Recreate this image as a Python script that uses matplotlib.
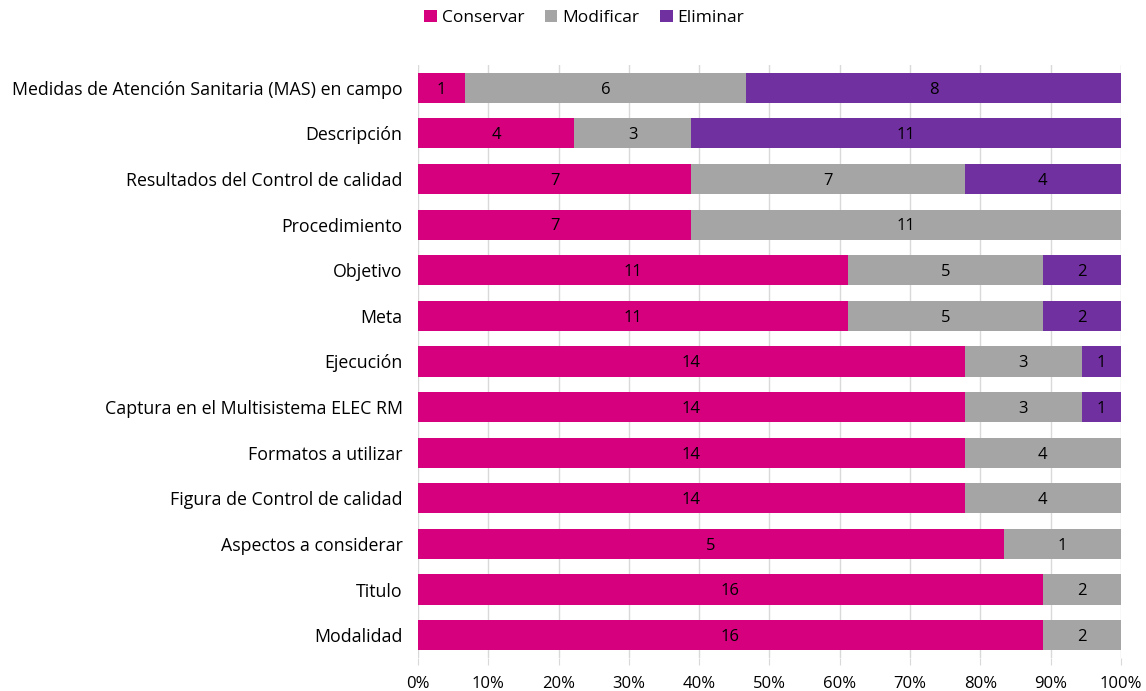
import matplotlib
matplotlib.use("Agg")
import matplotlib.pyplot as plt
import numpy as np

categories = ["Medidas de Atención Sanitaria (MAS) en campo", "Descripción",
              "Resultados del Control de calidad", "Procedimiento", "Objetivo", "Meta",
              "Ejecución", "Captura en el Multisistema ELEC RM", "Formatos a utilizar",
              "Figura de Control de calidad", "Aspectos a considerar", "Titulo", "Modalidad"]
conservar = [1, 4, 7, 7, 11, 11, 14, 14, 14, 14, 5, 16, 16]
modificar = [6, 3, 7, 11, 5, 5, 3, 3, 4, 4, 1, 2, 2]
eliminar = [8, 11, 4, 0, 2, 2, 1, 1, 0, 0, 0, 0, 0]
series_names = ["Conservar", "Modificar", "Eliminar"]
colors = ["#D6007F", "#A5A5A5", "#7030A0"]
xticklabels = ["0%", "10%", "20%", "30%", "40%", "50%", "60%", "70%", "80%", "90%", "100%"]

plt.rcParams['font.family'] = ['Open Sans', 'DejaVu Sans']

fig = plt.figure(figsize=(11.46, 6.91), dpi=100)
ax = fig.add_axes([0.3647, 0.0478, 0.6135, 0.8582])

data = np.array([conservar, modificar, eliminar], dtype=float)
totals = data.sum(axis=0)
pct = data / totals * 100
y = np.arange(len(categories))
left = np.zeros(len(categories))
for i, name in enumerate(series_names):
    ax.barh(y, pct[i], left=left, height=0.66, color=colors[i], label=name, zorder=3)
    for j in range(len(categories)):
        if data[i, j] > 0:
            ax.text(left[j] + pct[i, j] / 2, y[j] + 0.04, f"{int(data[i, j])}", ha="center", va="center",
                    fontsize=12, color="black", zorder=4)
    left += pct[i]

ax.set_ylim(len(categories) - 0.5, -0.5)
ax.set_xlim(0, 100)
ax.set_yticks(y)
ax.set_yticklabels(categories, fontsize=12.8)
ax.set_xticks(np.arange(0, 101, 10))
ax.set_xticklabels(xticklabels, fontsize=12)
ax.tick_params(axis='y', length=0, pad=11)
ax.tick_params(axis='x', length=5, color="#D9D9D9", pad=8)
ax.grid(axis='x', color="#D9D9D9", linewidth=1, zorder=0)
for s in ax.spines.values():
    s.set_visible(False)

fig.legend(loc="upper center", bbox_to_anchor=(0.51, 1.008), ncol=3, frameon=False, fontsize=12.5,
           handlelength=0.7, handleheight=0.7, handletextpad=0.3, columnspacing=1.2)

fig.savefig("out.png", dpi=100)
